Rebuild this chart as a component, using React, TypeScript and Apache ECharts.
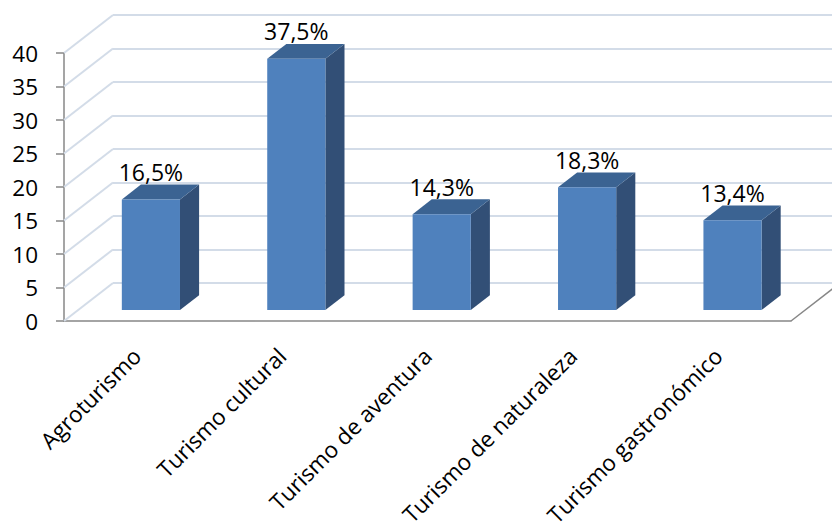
import React, { useEffect, useRef } from "react";
import * as echarts from "echarts";

// Tourism preference shares (%)
const categories = [
  "Agroturismo",
  "Turismo cultural",
  "Turismo de aventura",
  "Turismo de naturaleza",
  "Turismo gastronómico",
];
const shares = [16.5, 37.5, 14.3, 18.3, 13.4];
const wallTicks = [0, 5, 10, 15, 20, 25, 30, 35, 40];

// pseudo-3D projection of the depth axis
const DEPTH_DX = 49;
const DEPTH_DY = -38;
const BAR_FRONT = 0.29; // depth fraction where bar front faces sit
const BAR_DEPTH = 0.39; // depth fraction occupied by each bar

const GRID = { left: 64, right: 41, top: 53, bottom: 203 };
const FONT = "'Open Sans', 'Noto Sans', sans-serif";

const fmt = (v: number) => v.toFixed(1).replace(".", ",") + "%";

export default function App() {
  const ref = useRef<HTMLDivElement>(null);

  useEffect(() => {
    if (!ref.current) return;
    const chart = echarts.init(ref.current, null, { renderer: "svg" });

    const fx = DEPTH_DX * BAR_FRONT;
    const fy = DEPTH_DY * BAR_FRONT;
    const sx = DEPTH_DX * BAR_DEPTH;
    const sy = DEPTH_DY * BAR_DEPTH;

    chart.setOption({
      animation: false,
      backgroundColor: "#ffffff",
      grid: [
        { ...GRID, outerBoundsMode: "none", containLabel: false },
        {
          left: GRID.left + DEPTH_DX,
          right: 0,
          top: GRID.top + DEPTH_DY,
          bottom: GRID.bottom - DEPTH_DY,
          outerBoundsMode: "none",
          containLabel: false,
        },
      ],
      xAxis: [
        {
          type: "category",
          data: categories,
          gridIndex: 0,
          axisLine: { lineStyle: { color: "#878787", width: 1.5 } },
          axisTick: { length: 6, lineStyle: { color: "#878787", width: 1.5 } },
          axisLabel: {
            rotate: 45,
            margin: 31,
            color: "#000",
            fontSize: 22.5,
            fontFamily: FONT,
            interval: 0,
          },
        },
        {
          type: "category",
          data: categories,
          gridIndex: 1,
          show: false,
        },
      ],
      yAxis: [
        {
          type: "value",
          gridIndex: 0,
          min: 0,
          max: 40,
          interval: 5,
          axisLine: { show: true, lineStyle: { color: "#878787", width: 1.5 } },
          axisTick: { show: true, length: 8, lineStyle: { color: "#878787", width: 1.5 } },
          axisLabel: {
            margin: 26,
            color: "#000",
            fontSize: 22.5,
            fontFamily: FONT,
          },
          splitLine: { show: false },
        },
        {
          type: "value",
          gridIndex: 1,
          min: 0,
          max: 40,
          interval: 5,
          axisLine: { show: false },
          axisTick: { show: false },
          axisLabel: { show: false },
          splitLine: { show: true, lineStyle: { color: "#d3dce8", width: 2 } },
        },
      ],
      series: [
        {
          // side-wall gridlines running from the front axis back to the wall
          type: "custom",
          xAxisIndex: 0,
          yAxisIndex: 0,
          silent: true,
          z: 1,
          data: wallTicks.map((v) => [0, v]),
          renderItem: (params: any, api: any) => {
            const y = api.coord([0, api.value(1)])[1];
            const x = params.coordSys.x;
            return {
              type: "line",
              shape: { x1: x, y1: y, x2: x + DEPTH_DX, y2: y + DEPTH_DY },
              style: { stroke: "#d3dce8", lineWidth: 2 },
            };
          },
        },
        {
          // right floor edge
          type: "custom",
          xAxisIndex: 0,
          yAxisIndex: 0,
          silent: true,
          z: 1,
          data: [[categories.length - 1, 0]],
          renderItem: (params: any, api: any) => {
            const y = api.coord([0, 0])[1];
            const x = params.coordSys.x + params.coordSys.width;
            return {
              type: "line",
              shape: { x1: x, y1: y, x2: x + DEPTH_DX, y2: y + DEPTH_DY },
              style: { stroke: "#878787", lineWidth: 1.5 },
            };
          },
        },
        {
          // 3D bars with value labels
          type: "custom",
          xAxisIndex: 0,
          yAxisIndex: 0,
          z: 3,
          data: shares.map((v, i) => [i, v]),
          renderItem: (params: any, api: any) => {
            const idx = api.value(0);
            const val = api.value(1);
            const [cx, y0] = api.coord([idx, 0]);
            const y1 = api.coord([idx, val])[1];
            const w = api.size([1, 0])[0] * 0.4;
            const xl = cx + fx - w / 2;
            const xr = xl + w;
            const yb = y0 + fy;
            const yt = y1 + fy;
            return {
              type: "group",
              children: [
                {
                  type: "polygon",
                  shape: {
                    points: [
                      [xr, yt],
                      [xr + sx, yt + sy],
                      [xr + sx, yb + sy],
                      [xr, yb],
                    ],
                  },
                  style: { fill: "#324f76" },
                },
                {
                  type: "polygon",
                  shape: {
                    points: [
                      [xl, yt],
                      [xr, yt],
                      [xr + sx, yt + sy],
                      [xl + sx, yt + sy],
                    ],
                  },
                  style: { fill: "#3b6392" },
                },
                {
                  type: "rect",
                  shape: { x: xl, y: yt, width: w, height: yb - yt },
                  style: { fill: "#4f81bd" },
                },
                {
                  type: "text",
                  style: {
                    text: fmt(val),
                    x: xl + w / 2,
                    y: yt + sy - 1,
                    align: "center",
                    verticalAlign: "bottom",
                    fill: "#000",
                    fontSize: 23,
                    fontFamily: FONT,
                  },
                },
              ],
            };
          },
        },
      ],
    });

    return () => chart.dispose();
  }, []);

  return (
    <div
      ref={ref}
      style={{ position: "absolute", left: 0, top: 0, width: 832, height: 524 }}
    />
  );
}
